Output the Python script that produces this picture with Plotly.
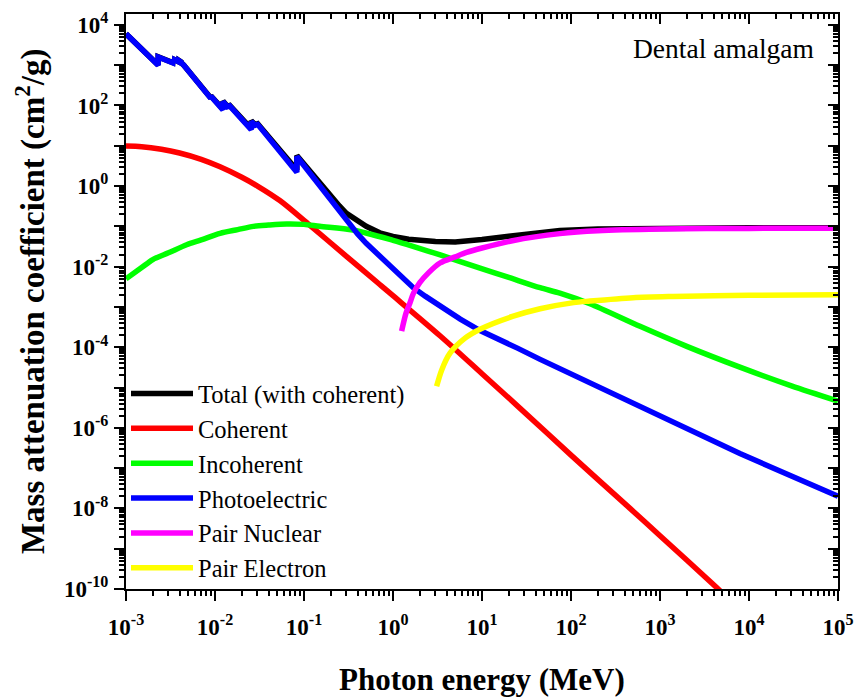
import plotly.graph_objects as go

# ---------------- data ----------------
# Photon energy in MeV, mass attenuation coefficients in cm^2/g

total_E = [1e-3, 2.30e-3, 2.30e-3, 2.84e-3, 2.85e-3, 3.34e-3, 3.35e-3, 3.52e-3, 3.53e-3,
           3.92e-3, 3.93e-3, 4.15e-3, 4.16e-3, 4.46e-3, 8.97e-3, 8.98e-3, 12.28e-3, 12.29e-3,
           14.2e-3, 14.21e-3, 14.84e-3, 14.85e-3, 25.5e-3, 25.52e-3, 29.2e-3, 29.21e-3,
           83.1e-3, 83.11e-3, 0.1, 0.12, 0.15, 0.2, 0.25, 0.3, 0.4, 0.5, 0.71, 1.0, 1.5, 2.0,
           3.0, 5.0, 7.0, 10.0, 20.0, 30.0, 50.0, 75.0, 200.0, 1000.0, 1e4, 1e5]
total_mu = [6.0e3, 1.01e3, 1.61e3, 1.31e3, 1.41e3, 1.16e3, 1.36e3, 1.26e3, 1.36e3,
            1.21e3, 1.31e3, 1.21e3, 1.16e3, 1.0e3, 153, 173, 81, 128,
            89, 108, 97, 108, 26.5, 41.5, 31.2, 38.2,
            2.5, 5.7, 3.5, 2.1, 1.15, 0.56, 0.32, 0.21, 0.135, 0.1, 0.069, 0.056, 0.048, 0.045,
            0.042, 0.041, 0.043, 0.047, 0.057, 0.064, 0.073, 0.079, 0.086, 0.090, 0.092, 0.092]

coh_E = [1e-3, 1.5e-3, 2.5e-3, 4e-3, 7e-3, 11.4e-3, 20e-3, 30e-3, 54e-3, 0.114, 0.3, 0.71,
         1.0, 3.4, 10.0, 27.0, 100.0, 460.0, 1000.0, 4300.0, 5500.0]
coh_mu = [9.8, 9.5, 8.2, 6.6, 4.6, 3.0, 1.65, 1.0, 0.43, 0.11, 0.018, 3.6e-3,
          1.9e-3, 1.9e-4, 2.2e-5, 3.0e-6, 2.1e-7, 1.0e-8, 2.1e-9, 1.1e-10, 6.5e-11]

incoh_E = [1e-3, 1.5e-3, 2e-3, 3e-3, 4.8e-3, 7e-3, 11.4e-3, 18e-3, 27e-3, 40e-3, 64e-3,
           0.1, 0.15, 0.355, 1.0, 1.68, 3.4, 9.5, 20.0, 45.0, 75.0, 163.0, 596.0, 2000.0,
           7.9e3, 3e4, 1e5]
incoh_mu = [5.0e-3, 9.5e-3, 0.015, 0.022, 0.035, 0.046, 0.067, 0.083, 0.1, 0.108, 0.115,
            0.112, 0.1, 0.081, 0.045, 0.032, 0.0195, 9.2e-3, 5.4e-3, 3.0e-3, 2.2e-3, 1.2e-3,
            3.3e-4, 1.05e-4, 3.2e-5, 1.1e-5, 4.6e-6]

photo_E = [1e-3, 2.30e-3, 2.30e-3, 2.84e-3, 2.85e-3, 3.34e-3, 3.35e-3, 3.52e-3, 3.53e-3,
           3.92e-3, 3.93e-3, 4.15e-3, 4.16e-3, 4.46e-3, 8.97e-3, 8.98e-3, 12.28e-3, 12.29e-3,
           14.2e-3, 14.21e-3, 14.84e-3, 14.85e-3, 25.5e-3, 25.52e-3, 29.2e-3, 29.21e-3,
           83.1e-3, 83.11e-3, 0.1, 0.12, 0.15, 0.2, 0.25, 0.3, 0.4, 0.5, 0.71, 1.0, 1.69, 2.3,
           3.0, 4.0, 5.7, 9.5, 14.6, 25.0, 45.0, 126.0, 596.0, 7.9e3, 1e5]
photo_mu = [6.0e3, 1.0e3, 1.6e3, 1.3e3, 1.4e3, 1.15e3, 1.35e3, 1.25e3, 1.35e3,
            1.2e3, 1.3e3, 1.2e3, 1.15e3, 1.0e3, 150, 170, 78, 125,
            86, 105, 94, 105, 25, 40, 30, 37,
            2.2, 5.4, 3.2, 1.9, 1.0, 0.45, 0.235, 0.13, 0.065, 0.038, 0.018, 8.5e-3, 3.0e-3,
            1.85e-3, 1.25e-3, 8.3e-4, 5.0e-4, 2.6e-4, 1.6e-4, 9.5e-5, 5.0e-5, 1.7e-5, 3.4e-6,
            2.3e-7, 2.0e-8]

pairn_E = [1.25, 1.4, 1.55, 1.7, 2.0, 2.5, 3.37, 5.0, 6.7, 10.0, 22.0, 75.0, 200.0,
           1000.0, 1e4, 1e5]
pairn_mu = [2.5e-4, 7e-4, 1.25e-3, 2.2e-3, 4.0e-3, 7e-3, 0.0123, 0.0175, 0.0225, 0.029,
            0.044, 0.066, 0.078, 0.086, 0.089, 0.090]

paire_E = [3.09, 3.52, 4.37, 6.5, 9.5, 22.0, 45.0, 107.0, 163.0, 500.0, 1400.0, 1e4, 1e5]
paire_mu = [1.07e-5, 2.7e-5, 7.1e-5, 1.7e-4, 2.8e-4, 5.8e-4, 9.0e-4, 1.28e-3, 1.4e-3,
            1.7e-3, 1.82e-3, 1.95e-3, 2.0e-3]

series = [
    ("Total (with coherent)", total_E, total_mu, "#000000", "linear"),
    ("Coherent", coh_E, coh_mu, "#FF0000", "spline"),
    ("Incoherent", incoh_E, incoh_mu, "#00FF00", "spline"),
    ("Photoelectric", photo_E, photo_mu, "#0000FF", "linear"),
    ("Pair Nuclear", pairn_E, pairn_mu, "#FF00FF", "spline"),
    ("Pair Electron", paire_E, paire_mu, "#FFFF00", "spline"),
]

x_exp = list(range(-3, 6))
y_exp = list(range(-10, 5))
label_text = "Dental amalgam"
x_title = "Photon energy (MeV)"
y_title = "Mass attenuation coefficient (cm<sup>2</sup>/g)"

# ---------------- figure ----------------
FONT = "Liberation Serif"
fig = go.Figure()
for i, (name, xs, ys, col, shape) in enumerate(series):
    fig.add_trace(go.Scatter(x=xs, y=ys, mode="lines", name=name,
                             line=dict(color=col, width=5.5, shape=shape, smoothing=0.8),
                             legendgroup="g%d" % i))
# empty traces so the mirror axes (top / right) are drawn
fig.add_trace(go.Scatter(x=[], y=[], xaxis="x2", yaxis="y", showlegend=False, hoverinfo="skip"))
fig.add_trace(go.Scatter(x=[], y=[], xaxis="x", yaxis="y2", showlegend=False, hoverinfo="skip"))

xt_vals = [10.0 ** e for e in x_exp]
xt_text = ["<b>10<sup>%d</sup></b>" % e for e in x_exp]
yt_vals = [10.0 ** e for e in y_exp]
yt_text = [("<b>10<sup>%d</sup></b>" % e) if e % 2 == 0 else "" for e in y_exp]

def minor_vals(lo, hi):
    out = []
    for e in range(lo - 1, hi + 1):
        for d in range(2, 10):
            out.append(d * 10.0 ** e)
    return out

xr = [-3, 5]
yr = [-10, 4.27]
tickfont = dict(family=FONT, size=23, color="black", weight="bold")
common = dict(type="log", showgrid=False, zeroline=False, showline=True, automargin=False,
              linecolor="black", linewidth=2, tickcolor="black", tickwidth=2, ticklen=10)

fig.update_layout(
    width=855, height=697, autosize=False,
    margin=dict(l=126, r=17, t=14, b=108, autoexpand=False),
    paper_bgcolor="white", plot_bgcolor="white",
    xaxis=dict(**common, range=xr, ticks="outside", tickmode="array",
               tickvals=xt_vals, ticktext=xt_text, tickfont=tickfont,
               ticklabelstandoff=6,
               minor=dict(tickmode="array", tickvals=minor_vals(-3, 5), ticks="outside",
                          ticklen=5, tickwidth=1.5, tickcolor="black", showgrid=False)),
    xaxis2=dict(**common, range=xr, overlaying="x", side="top", anchor="y",
                ticks="inside", tickmode="array", tickvals=xt_vals, showticklabels=False,
                minor=dict(tickmode="array", tickvals=minor_vals(-3, 5), ticks="inside",
                           ticklen=5, tickwidth=1.5, tickcolor="black", showgrid=False)),
    yaxis=dict(**common, range=yr, ticks="outside", tickmode="array",
               tickvals=yt_vals, ticktext=yt_text, tickfont=tickfont,
               ticklabelstandoff=1,
               minor=dict(tickmode="array", tickvals=minor_vals(-10, 4), ticks="outside",
                          ticklen=5, tickwidth=1.5, tickcolor="black", showgrid=False)),
    yaxis2=dict(**common, range=yr, overlaying="y", side="right", anchor="x",
                ticks="inside", tickmode="array", tickvals=yt_vals, showticklabels=False,
                minor=dict(tickmode="array", tickvals=minor_vals(-10, 4), ticks="inside",
                           ticklen=5, tickwidth=1.5, tickcolor="black", showgrid=False)),
    legend=dict(x=0.0, y=0.379, xanchor="left", yanchor="top",
                bgcolor="rgba(0,0,0,0)", borderwidth=0,
                font=dict(family=FONT, size=24.5, color="black"),
                traceorder="grouped", tracegroupgap=0, itemwidth=62),
    showlegend=True,
    annotations=[
        dict(text=label_text, xref="paper", yref="paper", x=0.969, y=0.94,
             xanchor="right", yanchor="middle", showarrow=False,
             font=dict(family=FONT, size=27.5, color="black")),
        dict(text="<b>%s</b>" % x_title, xref="paper", yref="paper", x=0.5, y=-0.158,
             xanchor="center", yanchor="middle", showarrow=False,
             font=dict(family=FONT, size=31, color="black")),
        dict(text="<b>%s</b>" % y_title, xref="paper", yref="paper", x=-0.134, y=0.5,
             xanchor="center", yanchor="middle", showarrow=False, textangle=-90,
             font=dict(family=FONT, size=33, color="black")),
    ],
)

fig.write_html("out.html",
               config={"responsive": False, "displayModeBar": False},
               post_script="document.body.style.margin='0';document.body.style.overflow='hidden';")
